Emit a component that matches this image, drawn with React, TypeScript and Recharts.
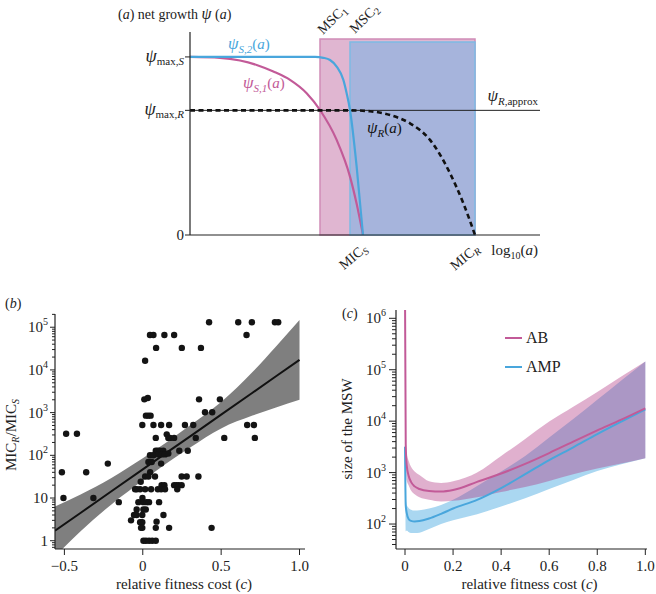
import React from 'react';
import {
  ComposedChart, Line, Area, Scatter, XAxis, YAxis,
  ReferenceArea, ReferenceLine, ReferenceDot, Legend,
} from 'recharts';

const FONT = '"Liberation Serif", "Times New Roman", Times, serif';
const INK = '#222222';
const PINK = '#c25a98';
const BLUE = '#49a6dc';

// ---------------- panel (a): net growth ----------------
const MSC1 = 2.6;
const MSC2 = 3.2;
const MIC_S = 3.46;
const MIC_R = 5.7;
const PSI_MAX_S = 1;
const PSI_MAX_R = 0.7;
const RECT_TOP_1 = 1.1;
const RECT_TOP_2 = 1.084;

const psiS1X = [0, 0.6, 1.0, 1.333, 1.667, 2.0, 2.333, 2.6, 2.933, 3.2, 3.333, 3.46];
const psiS1Y = [1, 0.995, 0.98, 0.955, 0.918, 0.871, 0.796, 0.702, 0.534, 0.328, 0.175, 0];
const psiS2X = [0, 2.5, 2.667, 2.8, 2.933, 3.067, 3.133, 3.2, 3.333, 3.46];
const psiS2Y = [1, 1, 0.995, 0.983, 0.946, 0.871, 0.796, 0.702, 0.384, 0];
const psiRX = [0, 3.2, 3.6, 4.0, 4.4, 4.8, 5.2, 5.467, 5.7];
const psiRY = [0.7, 0.7, 0.695, 0.674, 0.627, 0.534, 0.347, 0.178, 0];

const aYTicks = [0, PSI_MAX_R, PSI_MAX_S];
const aXTicks = [MIC_S, MIC_R];

// ---------------- panel (b): MIC ratio vs cost ----------------
const scatterPoints: [number, number][] = [
  [-0.516, 40], [-0.489, 320], [-0.42, 320], [-0.506, 10], [-0.361, 40], [-0.315, 10], [-0.223, 64], [-0.153, 8],
  [0.423, 131072], [0.609, 131072], [0.696, 131072], [0.843, 131072], [0.864, 131072],
  [0.046, 65536], [0.068, 65536], [0.138, 65536], [0.2, 65536], [0.662, 65536],
  [0.085, 32768], [0.249, 32768], [0.371, 32768],
  [0.015, 16384],
  [0.01, 2048], [0.032, 2200], [0.359, 2048], [0.492, 2048],
  [0.397, 1024], [0.443, 1024],
  [0.02, 850], [0.035, 850], [0.05, 850],
  [-0.003, 512], [0.068, 512], [0.117, 512], [0.168, 512], [0.269, 512], [0.322, 512], [0.666, 512], [0.709, 512],
  [0.083, 256], [0.153, 310], [0.163, 256], [0.174, 256], [0.2, 256], [0.338, 256], [0.52, 256], [0.715, 256],
  [0.083, 128], [0.096, 128], [0.11, 128], [0.131, 128], [0.233, 128], [0.287, 128],
  [0.046, 100], [0.068, 100], [0.1, 105], [0.12, 105], [0.142, 105], [0.163, 110],
  [0.036, 70], [0.057, 70], [0.117, 64],
  [0.047, 40],
  [0.015, 32], [0.036, 32], [0.078, 32], [0.248, 32], [0.28, 32], [0.355, 32],
  [-0.013, 24],
  [0.12, 20], [0.138, 20], [0.2, 20], [0.215, 20], [0.23, 20], [0.248, 20],
  [-0.049, 16], [-0.038, 16], [-0.017, 16], [0.015, 16], [0.053, 16], [0.096, 16], [0.117, 16], [0.142, 16], [0.22, 16],
  [-0.002, 10],
  [-0.028, 8], [0.004, 8], [0.025, 8], [0.04, 8], [0.104, 8],
  [-0.039, 5.4], [0.004, 5.4], [0.019, 5.4],
  [-0.056, 4], [-0.039, 4], [-0.003, 4], [0.132, 4],
  [-0.075, 3],
  [-0.017, 2.7], [-0.003, 2.7], [0.088, 2.8],
  [-0.011, 2], [-0.003, 2], [0.083, 2], [0.168, 2], [0.439, 2],
  [0.004, 1], [0.02, 1], [0.04, 1], [0.06, 1], [0.083, 1],
];
const fitX = [-0.56, -0.4, -0.2, 0, 0.15, 0.3, 0.5, 0.7, 0.85, 1.0];
const fitMean = [1.71, 4.4, 14.4, 47, 114, 275, 900, 2920, 7100, 17200];
const fitLo = [0.43, 1.62, 7.1, 25.7, 64.6, 151, 427, 851, 1318, 1995];
const fitHi = [6.3, 12, 29.5, 85, 200, 500, 1780, 8900, 35500, 148000];
const bXTicks = [-0.5, 0, 0.5, 1.0];
const bXLabels = ['\u22120.5', '0', '0.5', '1.0'];

// ---------------- panel (c): size of the MSW ----------------
const cX = [0, 0.003, 0.007, 0.015, 0.025, 0.04, 0.06, 0.1, 0.15, 0.2, 0.3, 0.4, 0.5, 0.6, 0.7, 0.8, 0.9, 1.0];
const abLine = [3000000, 3500, 1400, 870, 660, 540, 480, 440, 430, 460, 660, 960, 1480, 2400, 4000, 6600, 10700, 17800];
const abHi = [3000000, 6000, 2400, 1700, 1300, 1050, 900, 680, 630, 680, 1000, 2100, 4500, 9800, 19000, 37000, 74000, 145000];
const abLo = [2500000, 2000, 700, 570, 450, 380, 330, 296, 275, 282, 330, 420, 525, 690, 930, 1200, 1500, 1900];
const ampLine = [3200, 230, 165, 125, 115, 112, 114, 128, 158, 200, 295, 500, 930, 1750, 3100, 5600, 9800, 17000];
const ampHi = [3600, 345, 236, 205, 190, 183, 185, 200, 235, 295, 550, 1050, 2100, 4800, 11000, 26000, 62000, 145000];
const ampLo = [2800, 72, 75, 70, 67, 67, 68, 80, 100, 118, 155, 220, 316, 480, 720, 1070, 1450, 1900];
const cXTicks = [0, 0.2, 0.4, 0.6, 0.8, 1.0];
const cXLabels = ['0', '0.2', '0.4', '0.6', '0.8', '1.0'];
const legendNames = ['AB', 'AMP'];
const legendColors = [PINK, BLUE];

// ---------------- helpers ----------------
const rows = (xs: number[], ys: number[]) => xs.map((x, i) => ({ x, y: ys[i] }));
const psiS1Rows = rows(psiS1X, psiS1Y);
const psiS2Rows = rows(psiS2X, psiS2Y);
const psiRRows = rows(psiRX, psiRY);
const scatterRows = scatterPoints.map(([x, y]) => ({ x, y }));
const fitRows = fitX.map((x, i) => ({ x, mean: fitMean[i], band: [fitLo[i], fitHi[i]] }));
const cRows = cX.map((x, i) => ({
  x,
  ab: abLine[i],
  abBand: [abLo[i], abHi[i]],
  amp: ampLine[i],
  ampBand: [ampLo[i], ampHi[i]],
}));

const logTicks = (minExp: number, maxExp: number, lo: number, hi: number) => {
  const out: number[] = [];
  for (let e = minExp; e <= maxExp; e++) {
    for (let m = 1; m <= 9; m++) {
      const v = Number((m * Math.pow(10, e)).toPrecision(6));
      if (v >= lo && v <= hi) out.push(v);
    }
  }
  return out;
};
const bYTicks = logTicks(-1, 5, 0.64, 204000);
const cYTicks = logTicks(1, 6, 32.7, 1450000);

const LogYTick = (props: any) => {
  const { x, y, payload, majorLen, minorLen, gap } = props;
  const v = payload.value;
  const lg = Math.log10(v);
  const exp = Math.round(lg);
  const isMajor = Math.abs(lg - exp) < 1e-6;
  const len = isMajor ? majorLen : minorLen;
  return (
    <g>
      <line x1={x - len} x2={x} y1={y} y2={y} stroke={INK} strokeWidth={1} />
      {isMajor && (
        <text x={x - majorLen - gap} y={y + 5} textAnchor="end" fontFamily={FONT} fontSize={15} fill={INK}>
          {exp === 0 ? '1' : exp === 1 ? '10' : (
            <>
              10<tspan dy={-7} fontSize={10}>{exp}</tspan>
            </>
          )}
        </text>
      )}
    </g>
  );
};

const NumXTick = (props: any) => {
  const { x, y, payload, vals, labels } = props;
  const i = vals.indexOf(payload.value);
  return (
    <g>
      <line x1={x} x2={x} y1={y} y2={y + 6} stroke={INK} strokeWidth={1} />
      <text x={x} y={y + 22} textAnchor="middle" fontFamily={FONT} fontSize={15} fill={INK}>
        {i >= 0 ? labels[i] : ''}
      </text>
    </g>
  );
};

const PsiYTick = (props: any) => {
  const { x, y, payload } = props;
  const v = payload.value;
  return (
    <g>
      <line x1={x - 5} x2={x} y1={y} y2={y} stroke={INK} strokeWidth={1} />
      <text x={x - 6} y={y + 5} textAnchor="end" fontFamily={FONT} fill={INK}>
        {v === 0 ? (
          <tspan fontSize={15}>0</tspan>
        ) : (
          <>
            <tspan fontSize={18} fontStyle="italic">{'\u03C8'}</tspan>
            <tspan fontSize={11} dy={3}>max,</tspan>
            <tspan fontSize={11} fontStyle="italic">{v === PSI_MAX_S ? 'S' : 'R'}</tspan>
          </>
        )}
      </text>
    </g>
  );
};

const MicTick = (props: any) => {
  const { x, y, payload } = props;
  const sub = payload.value === MIC_S ? 'S' : 'R';
  const ax = x + 5;
  const ay = y + 15;
  return (
    <text x={ax} y={ay} textAnchor="end" transform={`rotate(-40 ${ax} ${ay})`} fontFamily={FONT} fontSize={14} fill={INK}>
      MIC<tspan fontSize={10} dy={3} fontStyle="italic">{sub}</tspan>
    </text>
  );
};

const mscLabel = (sub: string, dx: number, dy: number) => (p: any) => {
  const vb = p.viewBox || {};
  const ax = vb.x + dx;
  const ay = vb.y + dy;
  return (
    <text x={ax} y={ay} transform={`rotate(-45 ${ax} ${ay})`} fontFamily={FONT} fontSize={14} fill={INK}>
      MSC<tspan fontSize={10} dy={3}>{sub}</tspan>
    </text>
  );
};

const curveLabel = (color: string, sub: string, anchor: string = 'start') => (p: any) => {
  const vb = p.viewBox || {};
  return (
    <text x={vb.x} y={vb.y} textAnchor={anchor} fontFamily={FONT} fill={color}>
      <tspan fontSize={17} fontStyle="italic">{'\u03C8'}</tspan>
      <tspan fontSize={11} fontStyle="italic" dy={4}>{sub}</tspan>
      <tspan fontSize={15} dy={-4}>(</tspan>
      <tspan fontSize={15} fontStyle="italic">a</tspan>
      <tspan fontSize={15}>)</tspan>
    </text>
  );
};

const ChartA = () => (
  <ComposedChart width={656} height={280} margin={{ top: 32, right: 116, bottom: 15, left: 130 }}>
    <XAxis
      type="number" dataKey="x" domain={[0, 7]} ticks={aXTicks} interval={0} allowDataOverflow
      height={30} tickSize={0} tickMargin={0} tick={<MicTick />} axisLine={{ stroke: INK, strokeWidth: 1.2 }} tickLine={false}
      label={{
        content: (p: any) => {
          const vb = p.viewBox || {};
          return (
            <text x={vb.x + vb.width - 2} y={vb.y + 20} textAnchor="end" fontFamily={FONT} fontSize={15} fill={INK}>
              log<tspan fontSize={10} dy={4}>10</tspan><tspan dy={-4}>(</tspan><tspan fontStyle="italic">a</tspan>)
            </text>
          );
        },
      }}
    />
    <YAxis
      type="number" domain={[0, 1.14]} ticks={aYTicks} interval={0} allowDataOverflow width={60}
      tickSize={0} tickMargin={0} tick={<PsiYTick />} axisLine={{ stroke: INK, strokeWidth: 1.2 }} tickLine={false}
      label={{
        content: (p: any) => {
          const vb = p.viewBox || {};
          return (
            <text x={vb.x - 12} y={vb.y - 13} fontFamily={FONT} fontSize={14} fill={INK}>
              (<tspan fontStyle="italic">a</tspan>)  net growth <tspan fontStyle="italic" fontSize={16}>{'\u03C8'}</tspan> (<tspan fontStyle="italic">a</tspan>)
            </text>
          );
        },
      }}
    />
    <ReferenceArea
      x1={MSC1} x2={MIC_R} y1={0} y2={RECT_TOP_1} fill="#e0b6d1" fillOpacity={1} stroke="#d08cb7" strokeWidth={1.5}
      label={{ content: mscLabel('1', 3, -4) }}
    />
    <ReferenceArea
      x1={MSC2} x2={MIC_R} y1={0} y2={RECT_TOP_2} fill="#a6b4dc" fillOpacity={1} stroke="#7dbbe4" strokeWidth={1.5}
      label={{ content: mscLabel('2', 5, -8) }}
    />
    <ReferenceLine
      y={PSI_MAX_R} stroke={INK} strokeWidth={1}
      label={{
        content: (p: any) => {
          const vb = p.viewBox || {};
          return (
            <text x={vb.x + vb.width - 2} y={vb.y - 9} textAnchor="end" fontFamily={FONT} fill={INK}>
              <tspan fontSize={17} fontStyle="italic">{'\u03C8'}</tspan>
              <tspan fontSize={11} fontStyle="italic" dy={4}>R</tspan>
              <tspan fontSize={11}>,approx</tspan>
            </text>
          );
        },
      }}
    />
    <Line data={psiS1Rows} dataKey="y" type="monotone" stroke={PINK} strokeWidth={2.2} dot={false} isAnimationActive={false} />
    <Line data={psiS2Rows} dataKey="y" type="monotone" stroke={BLUE} strokeWidth={2.2} dot={false} isAnimationActive={false} />
    <Line data={psiRRows} dataKey="y" type="monotone" stroke="#111" strokeWidth={2.6} strokeDasharray="5 3.5" dot={false} isAnimationActive={false} />
    <ReferenceDot x={0.76} y={1.045} r={0} fill="none" stroke="none" label={{ content: curveLabel(BLUE, 'S,2') }} />
    <ReferenceDot x={1.06} y={0.826} r={0} fill="none" stroke="none" label={{ content: curveLabel(PINK, 'S,1') }} />
    <ReferenceDot x={3.54} y={0.573} r={0} fill="none" stroke="none" label={{ content: curveLabel('#111', 'R') }} />
  </ComposedChart>
);

const ChartB = () => (
  <ComposedChart width={330} height={304} data={fitRows} margin={{ top: 24, right: 25, bottom: 0, left: 0 }}>
    <XAxis
      type="number" dataKey="x" domain={[-0.56, 1.035]} ticks={bXTicks} interval={0} allowDataOverflow height={45}
      tickSize={0} tickMargin={0} tickLine={false} axisLine={{ stroke: INK, strokeWidth: 1.2 }}
      tick={<NumXTick vals={bXTicks} labels={bXLabels} />}
      label={{
        content: (p: any) => {
          const vb = p.viewBox || {};
          return (
            <text x={vb.x + vb.width / 2 + 4} y={vb.y + 40} textAnchor="middle" fontFamily={FONT} fontSize={15} fill={INK}>
              relative fitness cost (<tspan fontStyle="italic">c</tspan>)
            </text>
          );
        },
      }}
    />
    <YAxis
      type="number" scale="log" domain={[0.64, 204000]} ticks={bYTicks} interval={0} allowDataOverflow width={55}
      tickSize={0} tickMargin={0} tickLine={false} axisLine={{ stroke: INK, strokeWidth: 1.2 }}
      tick={<LogYTick majorLen={5} minorLen={3} gap={2} />}
      label={{
        content: (p: any) => {
          const vb = p.viewBox || {};
          const cx = 16;
          const cy = vb.y + 121;
          return (
            <g>
              <text x={5} y={vb.y - 6} fontFamily={FONT} fontSize={14} fill={INK}>
                (<tspan fontStyle="italic">b</tspan>)
              </text>
              <text x={cx} y={cy} textAnchor="middle" transform={`rotate(-90 ${cx} ${cy})`} fontFamily={FONT} fontSize={15} fill={INK}>
                MIC<tspan fontSize={10} dy={3} fontStyle="italic">R</tspan><tspan dy={-3}>/MIC</tspan><tspan fontSize={10} dy={3} fontStyle="italic">S</tspan>
              </text>
            </g>
          );
        },
      }}
    />
    <Area dataKey="band" type="monotone" stroke="none" fill="#7f7f7f" fillOpacity={1} isAnimationActive={false} />
    <Line dataKey="mean" type="linear" stroke="#111" strokeWidth={2} dot={false} isAnimationActive={false} />
    <Scatter
      data={scatterRows} dataKey="y" fill="#111" isAnimationActive={false}
      shape={(p: any) => <circle cx={p.cx} cy={p.cy} r={3.2} fill="#141414" />}
    />
  </ComposedChart>
);

const ChartC = () => (
  <ComposedChart width={326} height={294} data={cRows} margin={{ top: 10, right: 9, bottom: 0, left: 0 }}>
    <XAxis
      type="number" dataKey="x" domain={[-0.0375, 1.007]} ticks={cXTicks} interval={0} allowDataOverflow height={45}
      tickSize={0} tickMargin={0} tickLine={false} axisLine={{ stroke: INK, strokeWidth: 1.2 }}
      tick={<NumXTick vals={cXTicks} labels={cXLabels} />}
      label={{
        content: (p: any) => {
          const vb = p.viewBox || {};
          return (
            <text x={vb.x + vb.width / 2 + 8} y={vb.y + 40} textAnchor="middle" fontFamily={FONT} fontSize={15} fill={INK}>
              relative fitness cost (<tspan fontStyle="italic">c</tspan>)
            </text>
          );
        },
      }}
    />
    <YAxis
      type="number" scale="log" domain={[32.7, 1450000]} ticks={cYTicks} interval={0} allowDataOverflow width={66}
      tickSize={0} tickMargin={0} tickLine={false} axisLine={{ stroke: INK, strokeWidth: 1.2 }}
      tick={<LogYTick majorLen={7} minorLen={4} gap={3} />}
      label={{
        content: (p: any) => {
          const vb = p.viewBox || {};
          const cx = 22;
          const cy = vb.y + 119;
          return (
            <g>
              <text x={12} y={vb.y + 8} fontFamily={FONT} fontSize={14} fill={INK}>
                (<tspan fontStyle="italic">c</tspan>)
              </text>
              <text x={cx} y={cy} textAnchor="middle" transform={`rotate(-90 ${cx} ${cy})`} fontFamily={FONT} fontSize={15} fill={INK}>
                size of the MSW
              </text>
            </g>
          );
        },
      }}
    />
    <Area dataKey="ampBand" type="monotone" stroke="none" fill="#aad7f1" fillOpacity={1} isAnimationActive={false} />
    <Area dataKey="abBand" type="monotone" stroke="none" fill="rgb(173,47,126)" fillOpacity={0.38} isAnimationActive={false} />
    <Line dataKey="amp" type="monotone" stroke={BLUE} strokeWidth={2} dot={false} isAnimationActive={false} />
    <Line dataKey="ab" type="monotone" stroke={PINK} strokeWidth={2} dot={false} isAnimationActive={false} />
    <Legend
      layout="horizontal" verticalAlign="middle" align="center"
      wrapperStyle={{ left: 175, top: 23, width: 100, height: 58 }}
      content={() => (
        <div style={{ fontFamily: FONT, fontSize: 16, color: INK }}>
          {legendNames.map((n, i) => (
            <div key={n} style={{ display: 'flex', alignItems: 'center', height: 29 }}>
              <span style={{ display: 'inline-block', width: 17, height: 2, background: legendColors[i], marginRight: 4 }} />
              {n}
            </div>
          ))}
        </div>
      )}
    />
  </ComposedChart>
);

export default function App() {
  return (
    <div style={{ position: 'absolute', left: 0, top: 0, width: 656, height: 594, background: '#fff', fontFamily: FONT, overflow: 'hidden' }}>
      <div style={{ position: 'absolute', left: 0, top: 0 }}>
        <ChartA />
      </div>
      <div style={{ position: 'absolute', left: 0, top: 290 }}>
        <ChartB />
      </div>
      <div style={{ position: 'absolute', left: 330, top: 300 }}>
        <ChartC />
      </div>
    </div>
  );
}
